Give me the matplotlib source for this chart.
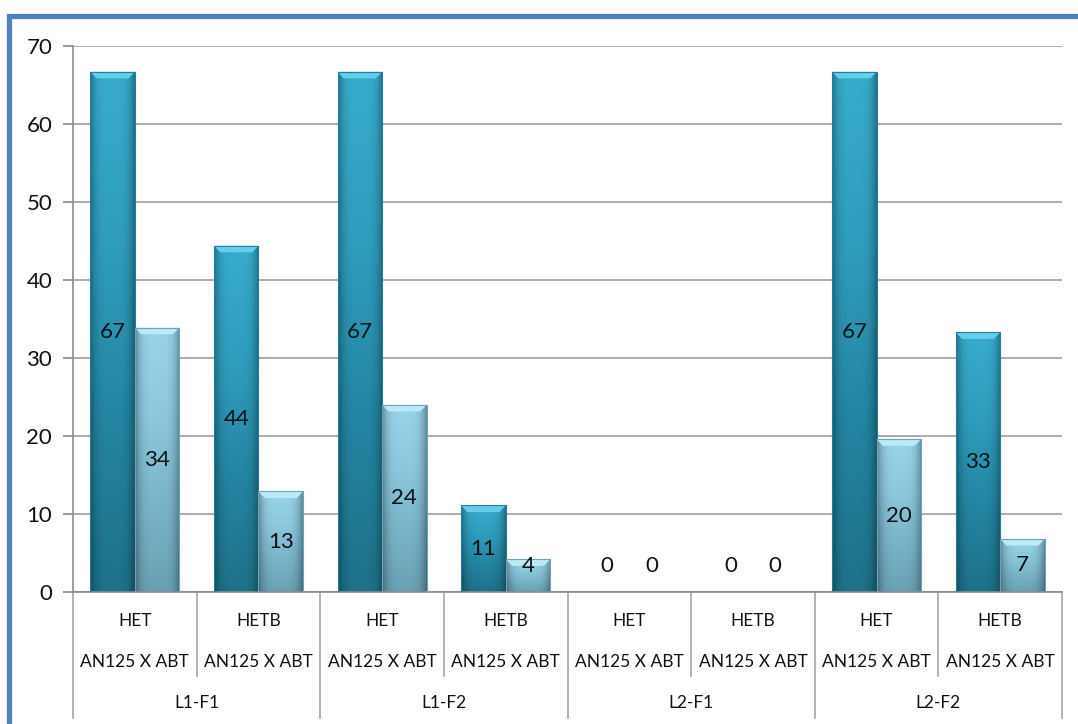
import matplotlib
matplotlib.use("Agg")
import matplotlib.pyplot as plt
import numpy as np
from matplotlib.patches import Polygon, Rectangle
from matplotlib.colors import LinearSegmentedColormap
import matplotlib.transforms as mtransforms

plt.rcParams['font.family'] = ['Lato', 'DejaVu Sans']

# ---- data ----
groups = ["L1-F1", "L1-F2", "L2-F1", "L2-F2"]
subcats = ["HET", "HETB", "HET", "HETB", "HET", "HETB", "HET", "HETB"]
crosses = ["AN125 X ABT"] * 8
series_dark = [66.7, 44.4, 66.7, 11.1, 0, 0, 66.7, 33.3]
series_light = [33.9, 12.9, 24.0, 4.2, 0, 0, 19.6, 6.8]
labels_dark = ["67", "44", "67", "11", "0", "0", "67", "33"]
labels_light = ["34", "13", "24", "4", "0", "0", "20", "7"]
yticks = [0, 10, 20, 30, 40, 50, 60, 70]

W, H = 1078, 724
fig = plt.figure(figsize=(W / 100, H / 100), dpi=100)
fig.patch.set_facecolor("white")

# blue frame
fig.patches.append(Rectangle((9 / W, -0.2), 1.3, 1.2 - 15.5 / H,
                             transform=fig.transFigure, fill=False,
                             edgecolor="#4F81BD", linewidth=3.8))

ax = fig.add_axes([73 / W, 132 / H, 989 / W, 546 / H])
ax.set_xlim(-0.5, 7.5)
ax.set_ylim(0, 70)

x = np.arange(len(subcats))
bw = 0.36

cmap_dark = LinearSegmentedColormap.from_list("d", ["#38ACCD", "#2F9DBD", "#2485A2", "#1E7189"])
cmap_light = LinearSegmentedColormap.from_list("l", ["#98D4EA", "#8CC8DE", "#7AB4C9", "#6AA0B4"])

def draw_bars(xs, vals, cmap, cap_color, edge_color):
    bars = ax.bar(xs, vals, width=bw, color="none", edgecolor=edge_color,
                  linewidth=0.8, zorder=3)
    for b, v in zip(bars, vals):
        if v <= 0:
            continue
        x0, x1 = b.get_x(), b.get_x() + b.get_width()
        grad = np.linspace(0, 1, 256).reshape(-1, 1)
        im = ax.imshow(grad, extent=[x0, x1, 0, v], origin="upper", aspect="auto",
                       cmap=cmap, zorder=2, interpolation="bilinear")
        im.set_clip_path(b)
        # horizontal shading: darker edges
        hgrad = np.abs(np.linspace(-1, 1, 64)).reshape(1, -1) ** 4
        rgba = np.zeros((1, 64, 4))
        rgba[..., 3] = hgrad * 0.35
        im2 = ax.imshow(rgba, extent=[x0, x1, 0, v], aspect="auto", zorder=2.5,
                        interpolation="bilinear")
        im2.set_clip_path(b)
        d = min(0.85, v * 0.5)
        dx = (x1 - x0) * 0.14
        cap = Polygon([(x0, v), (x1, v), (x1 - dx, v - d), (x0 + dx, v - d)],
                      closed=True, facecolor=cap_color, edgecolor="none", zorder=2.8)
        ax.add_patch(cap)
    ax.set_xlim(-0.5, 7.5)
    ax.set_ylim(0, 70)
    return bars

draw_bars(x - bw / 2, series_dark, cmap_dark, "#64CDEA", "#227F99")
draw_bars(x + bw / 2, series_light, cmap_light, "#BDE8F6", "#6CA5B9")

for xi, v, lab in zip(x - bw / 2, series_dark, labels_dark):
    ax.text(xi, max(v / 2, 3.3), lab, ha="center", va="center", fontsize=16,
            color="#111111", zorder=5)
for xi, v, lab in zip(x + bw / 2, series_light, labels_light):
    ax.text(xi, max(v / 2, 3.3), lab, ha="center", va="center", fontsize=16,
            color="#111111", zorder=5)

# grid & axes
ax.set_yticks(yticks)
ax.yaxis.grid(True, color="#A6A6A6", linewidth=1.3, zorder=0)
ax.set_axisbelow(True)
ax.tick_params(axis="y", length=7, width=1.2, color="#8C8C8C", labelsize=16,
               pad=8, labelcolor="#111111")
ax.set_xticks([])
for s in ["top", "right"]:
    ax.spines[s].set_visible(False)
ax.spines["left"].set_color("#8C8C8C")
ax.spines["left"].set_linewidth(1.2)
ax.spines["bottom"].set_color("#8C8C8C")
ax.spines["bottom"].set_linewidth(1.2)

# hierarchical category axis
trans = mtransforms.blended_transform_factory(ax.transData, ax.transAxes)
row1, row2, row3 = -0.0531, -0.1282, -0.2033
sep_cat = -0.1538
sep_grp = -0.2308
for i, (sc, cr) in enumerate(zip(subcats, crosses)):
    ax.text(i, row1, sc, transform=trans, ha="center", va="center",
            fontsize=12.5, color="#111111")
    ax.text(i, row2, cr, transform=trans, ha="center", va="center",
            fontsize=12.5, color="#111111")
for g, name in enumerate(groups):
    ax.text(2 * g + 0.5, row3, name, transform=trans, ha="center", va="center",
            fontsize=12.5, color="#111111")
for b in np.arange(-0.5, 8.0, 1.0):
    is_group = (int(b + 0.5) % 2 == 0)
    ax.plot([b, b], [0, sep_grp if is_group else sep_cat], transform=trans,
            color="#A6A6A6", linewidth=1.2, clip_on=False)

fig.savefig("out.png", dpi=100)
